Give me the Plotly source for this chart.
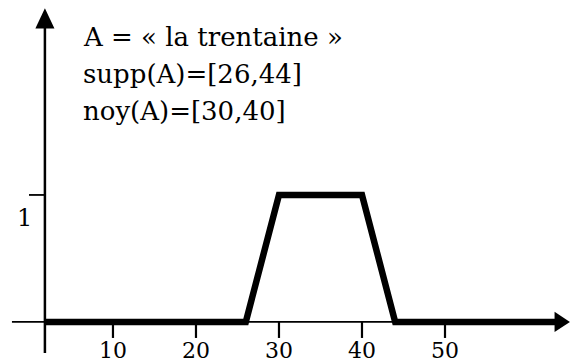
import plotly.graph_objects as go

# Trapezoidal membership function of the fuzzy set A = "la trentaine"
support = [26, 44]
core = [30, 40]
x_ticks = [10, 20, 30, 40, 50]
x_tick_labels = ["10", "20", "30", "40", "50"]
y_ticks = [1]
y_tick_labels = ["1"]
title_lines = ["A = « la trentaine »", "supp(A)=[26,44]", "noy(A)=[30,40]"]

# drawing frame (data units)
X_MIN, X_MAX = -3.61, 65.18
Y_MIN, Y_MAX = -0.331, 2.535
Y_AXIS_X = 1.8
X_END = 63.3

FONT = "DejaVu Serif"

mf_x = [Y_AXIS_X, support[0], core[0], core[1], support[1], X_END]
mf_y = [0, 0, 1, 1, 0, 0]

fig = go.Figure()

shapes = []
# horizontal axis (thin line) with arrow head
shapes.append(dict(type="line", x0=-2.17, y0=0, x1=X_END, y1=0,
                   line=dict(color="black", width=1.8)))
shapes.append(dict(type="path",
                   path=f"M {X_END - 0.1},-0.08 L 65.05,0 L {X_END - 0.1},0.08 Z",
                   fillcolor="black", line=dict(color="black", width=0)))
# vertical axis with arrow head
shapes.append(dict(type="line", x0=Y_AXIS_X, y0=-0.244, x1=Y_AXIS_X, y1=2.32,
                   line=dict(color="black", width=2.5)))
shapes.append(dict(type="path",
                   path=f"M {Y_AXIS_X - 1.15},2.31 L {Y_AXIS_X},2.47 L {Y_AXIS_X + 1.15},2.31 Z",
                   fillcolor="black", line=dict(color="black", width=0)))
# x ticks
for t in x_ticks:
    shapes.append(dict(type="line", x0=t, y0=0, x1=t, y1=-0.126,
                       line=dict(color="black", width=2.2)))
# y ticks
for t in y_ticks:
    shapes.append(dict(type="line", x0=-0.12, y0=t, x1=Y_AXIS_X, y1=t,
                       line=dict(color="black", width=1.8)))

fig.add_trace(go.Scatter(x=mf_x, y=mf_y, mode="lines",
                         line=dict(color="black", width=6.5),
                         hoverinfo="skip", showlegend=False))

annotations = []
for t, lab in zip(x_ticks, x_tick_labels):
    annotations.append(dict(x=t, y=-0.225, text=lab, showarrow=False,
                            xanchor="center", yanchor="middle",
                            font=dict(family=FONT, size=22, color="black")))
for t, lab in zip(y_ticks, y_tick_labels):
    annotations.append(dict(x=-0.6, y=t - 0.18, text=lab, showarrow=False,
                            xanchor="center", yanchor="middle",
                            font=dict(family=FONT, size=24, color="black")))
title_y = [2.24, 1.95, 1.661]
for line, ty in zip(title_lines, title_y):
    annotations.append(dict(x=6.1, y=ty, text=line, showarrow=False,
                            xanchor="left", yanchor="middle",
                            font=dict(family=FONT, size=26, color="black")))

fig.update_layout(
    width=571, height=364,
    margin=dict(l=0, r=0, t=0, b=0),
    paper_bgcolor="white", plot_bgcolor="white",
    xaxis=dict(range=[X_MIN, X_MAX], visible=False, fixedrange=True),
    yaxis=dict(range=[Y_MIN, Y_MAX], visible=False, fixedrange=True),
    shapes=shapes, annotations=annotations,
)

fig.write_html("out.html")
